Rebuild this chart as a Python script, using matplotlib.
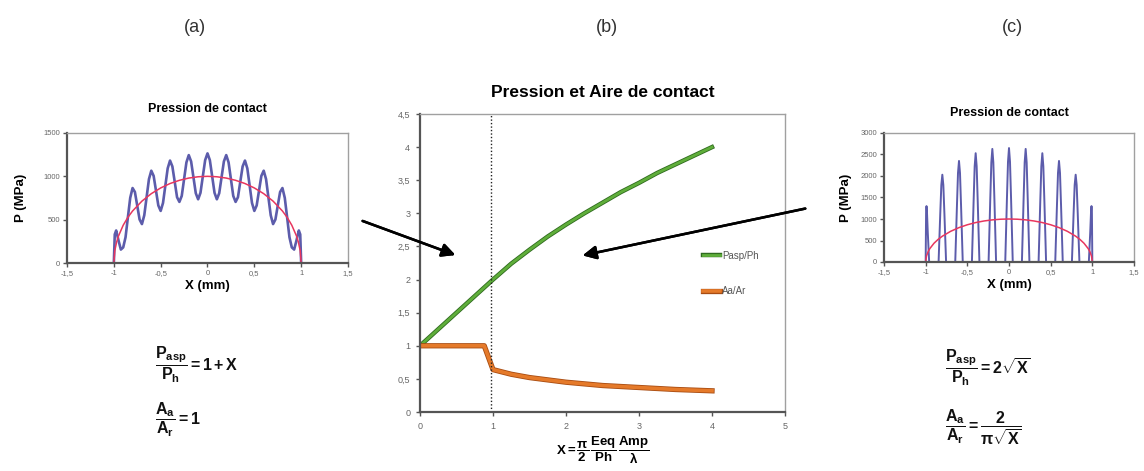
import matplotlib
matplotlib.use("Agg")
import matplotlib.pyplot as plt
import matplotlib.patheffects as pe

plt.rcParams['font.family'] = ['Liberation Sans', 'DejaVu Sans']
plt.rcParams['mathtext.fontset'] = 'custom'
plt.rcParams['mathtext.rm'] = 'Liberation Sans'
plt.rcParams['mathtext.bf'] = 'Liberation Sans:bold'
plt.rcParams['mathtext.it'] = 'Liberation Sans:italic'

# --- (a) sinusoidal roughness, pressure in MPa ---
a_x = [-1.0, -0.99, -0.975, -0.95, -0.925, -0.9, -0.875, -0.85, -0.825, -0.8,
       -0.775, -0.75, -0.725, -0.7, -0.675, -0.65, -0.625, -0.6, -0.575, -0.55,
       -0.525, -0.5, -0.475, -0.45, -0.425, -0.4, -0.375, -0.35, -0.325, -0.3,
       -0.275, -0.25, -0.225, -0.2, -0.175, -0.15, -0.125, -0.1, -0.075, -0.05,
       -0.025, 0.0, 0.025, 0.05, 0.075, 0.1, 0.125, 0.15, 0.175, 0.2,
       0.225, 0.25, 0.275, 0.3, 0.325, 0.35, 0.375, 0.4, 0.425, 0.45,
       0.475, 0.5, 0.525, 0.55, 0.575, 0.6, 0.625, 0.65, 0.675, 0.7,
       0.725, 0.75, 0.775, 0.8, 0.825, 0.85, 0.875, 0.9, 0.925, 0.95,
       0.975, 0.99, 1.0]
a_p = [0, 330, 375, 260, 155, 180, 297, 527, 752, 865,
       819, 661, 502, 449, 551, 760, 968, 1065, 1005, 835,
       664, 601, 693, 893, 1092, 1182, 1114, 937, 759, 705,
       774, 968, 1161, 1245, 1172, 989, 805, 735, 810, 999,
       1187, 1265, 1187, 999, 810, 735, 805, 989, 1172, 1245,
       1161, 968, 774, 705, 759, 937, 1114, 1182, 1092, 893,
       693, 601, 664, 835, 1005, 1065, 968, 760, 551, 449,
       502, 661, 819, 865, 752, 527, 297, 180, 155, 260,
       375, 330, 0]

# Hertz pressure (smooth contact), shared by (a) and (c)
hertz_x = [-1.0, -0.99, -0.97, -0.95, -0.9, -0.85, -0.8, -0.7, -0.6, -0.5, -0.4,
           -0.3, -0.2, -0.1, 0.0, 0.1, 0.2, 0.3, 0.4, 0.5, 0.6, 0.7, 0.8,
           0.85, 0.9, 0.95, 0.97, 0.99, 1.0]
hertz_p = [0, 141, 243, 312, 436, 527, 600, 714, 800, 866, 917,
           954, 980, 995, 1000, 995, 980, 954, 917, 866, 800, 714, 600,
           527, 436, 312, 243, 141, 0]

# --- (c) separated asperity contacts ---
c_x = [-1.5, -1.0, -0.995, -0.99, -0.984, -0.975, -0.958,
       -0.845, -0.825, -0.812, -0.8, -0.788, -0.775, -0.755,
       -0.645, -0.625, -0.612, -0.6, -0.588, -0.575, -0.555,
       -0.445, -0.425, -0.412, -0.4, -0.388, -0.375, -0.355,
       -0.245, -0.225, -0.212, -0.2, -0.188, -0.175, -0.155,
       -0.045, -0.025, -0.012, 0.0, 0.012, 0.025, 0.045,
       0.155, 0.175, 0.188, 0.2, 0.212, 0.225, 0.245,
       0.355, 0.375, 0.388, 0.4, 0.412, 0.425, 0.445,
       0.555, 0.575, 0.588, 0.6, 0.612, 0.625, 0.645,
       0.755, 0.775, 0.788, 0.8, 0.812, 0.825, 0.845,
       0.958, 0.975, 0.984, 0.99, 0.995, 1.0, 1.5]
c_p = [0, 0, 1150, 1300, 1150, 700, 0,
       0, 1120, 1790, 2030, 1790, 1120, 0,
       0, 1290, 2070, 2350, 2070, 1290, 0,
       0, 1390, 2225, 2530, 2225, 1390, 0,
       0, 1450, 2315, 2630, 2315, 1450, 0,
       0, 1460, 2330, 2650, 2330, 1460, 0,
       0, 1450, 2315, 2630, 2315, 1450, 0,
       0, 1390, 2225, 2530, 2225, 1390, 0,
       0, 1290, 2070, 2350, 2070, 1290, 0,
       0, 1120, 1790, 2030, 1790, 1120, 0,
       0, 700, 1150, 1300, 1150, 0, 0]

# --- (b) dimensionless pressure and contact area vs X ---
b_x_pasp = [0, 1.0, 1.25, 1.5, 1.75, 2.0, 2.25, 2.5, 2.75, 3.0, 3.25, 3.5, 3.75, 4.0]
b_pasp = [1.0, 2.0, 2.24, 2.45, 2.65, 2.83, 3.0, 3.16, 3.32, 3.46, 3.61, 3.74, 3.87, 4.0]
b_x_area = [0, 0.88, 1.0, 1.25, 1.5, 2.0, 2.5, 3.0, 3.5, 4.0]
b_area = [1.0, 1.0, 0.64, 0.57, 0.52, 0.45, 0.40, 0.37, 0.34, 0.32]
x_limit = 0.97

side_xticks = [-1.5, -1, -0.5, 0, 0.5, 1, 1.5]
side_xlabels = ['-1,5', '-1', '-0,5', '0', '0,5', '1', '1,5']
a_yticks = [0, 500, 1000, 1500]
c_yticks = [0, 500, 1000, 1500, 2000, 2500, 3000]
b_xticks = [0, 1, 2, 3, 4, 5]
b_yticks = [0, 0.5, 1, 1.5, 2, 2.5, 3, 3.5, 4, 4.5]
b_ylabels = ['0', '0,5', '1', '1,5', '2', '2,5', '3', '3,5', '4', '4,5']

W, H = 1144, 471
fig = plt.figure(figsize=(W / 100, H / 100), dpi=100)


def px_axes(left, top, right, bottom):
    return fig.add_axes([left / W, 1 - bottom / H, (right - left) / W, (bottom - top) / H])


def excel_frame(ax, size):
    for s in ['top', 'right']:
        ax.spines[s].set_color('#a0a0a0')
        ax.spines[s].set_linewidth(1.0)
    for s in ['left', 'bottom']:
        ax.spines[s].set_color('#555555')
        ax.spines[s].set_linewidth(1.6)
    ax.tick_params(direction='out', length=3, width=1, color='#555555',
                   labelsize=size, labelcolor='#666666', pad=2)


# (a)
ax1 = px_axes(67, 133, 348, 263)
ax1.plot(a_x, a_p, color='#5c5cab', lw=1.9)
ax1.plot(hertz_x, hertz_p, color='#e8365e', lw=1.1)
ax1.set_xlim(-1.5, 1.5)
ax1.set_ylim(0, 1500)
ax1.set_xticks(side_xticks, side_xlabels)
ax1.set_yticks(a_yticks)
excel_frame(ax1, 5.5)
ax1.set_title('Pression de contact', fontsize=9, fontweight='bold', pad=15)
ax1.set_xlabel('X (mm)', fontsize=9.5, fontweight='bold', labelpad=2)
ax1.set_ylabel('P (MPa)', fontsize=9.5, fontweight='bold', labelpad=12)

# (c)
ax3 = px_axes(884, 133, 1134, 262)
ax3.plot(c_x, c_p, color='#5c5cab', lw=1.4)
ax3.plot(hertz_x, hertz_p, color='#e8365e', lw=1.1)
ax3.set_xlim(-1.5, 1.5)
ax3.set_ylim(0, 3000)
ax3.set_xticks(side_xticks, side_xlabels)
ax3.set_yticks(c_yticks)
excel_frame(ax3, 5.5)
ax3.set_title('Pression de contact', fontsize=9, fontweight='bold', pad=12)
ax3.set_xlabel('X (mm)', fontsize=9.5, fontweight='bold', labelpad=2)
ax3.set_ylabel('P (MPa)', fontsize=9.5, fontweight='bold', labelpad=6)

# (b)
ax2 = px_axes(420, 114, 785, 412)
ax2.plot(b_x_pasp, b_pasp, color='#5fae3a', lw=2.0, label='Pasp/Ph',
         path_effects=[pe.Stroke(linewidth=3.2, foreground='#2f6a1f'), pe.Normal()])
ax2.plot(b_x_area, b_area, color='#e57a2a', lw=2.6, label='Aa/Ar',
         path_effects=[pe.Stroke(linewidth=3.8, foreground='#a84c12'), pe.Normal()])
ax2.axvline(x_limit, color='#222222', lw=1.0, ls=(0, (1, 1.5)))
ax2.set_xlim(0, 5)
ax2.set_ylim(0, 4.5)
ax2.set_xticks(b_xticks)
ax2.set_yticks(b_yticks, b_ylabels)
excel_frame(ax2, 6.5)
ax2.tick_params(pad=4)
ax2.set_title('Pression et Aire de contact', fontsize=12.5, fontweight='bold', pad=12)
ax2.set_xlabel(r'$\mathbf{X = \dfrac{\pi}{2}\,\dfrac{Eeq}{Ph}\,\dfrac{Amp}{\lambda}}$',
               fontsize=9.5, labelpad=3)
leg = ax2.legend(loc='upper left', bbox_to_anchor=(0.75, 0.57), frameon=False,
                 fontsize=7, handlelength=1.8, handletextpad=0.2, labelspacing=2.6)
for t in leg.get_texts():
    t.set_color('#555555')

# panel letters
for x, lab in [(195, '(a)'), (607, '(b)'), (1012, '(c)')]:
    fig.text(x / W, 1 - 28 / H, lab, fontsize=13, color='#333333', ha='center', va='center')

# arrows pointing into the central chart
fig.add_artist(plt.annotate('', xy=(458, H - 256), xytext=(360, H - 220),
                            xycoords='figure pixels', textcoords='figure pixels',
                            arrowprops=dict(arrowstyle='-|>', lw=1.8, color='black',
                                            mutation_scale=20)))
fig.add_artist(plt.annotate('', xy=(580, H - 256), xytext=(808, H - 208),
                            xycoords='figure pixels', textcoords='figure pixels',
                            arrowprops=dict(arrowstyle='-|>', lw=1.8, color='black',
                                            mutation_scale=20)))

# closed-form laws under the side panels
fig.text(155 / W, 1 - 365 / H, r'$\mathbf{\dfrac{P_{asp}}{P_h}=1+X}$', fontsize=11.5,
         ha='left', va='center', color='#111111')
fig.text(155 / W, 1 - 420 / H, r'$\mathbf{\dfrac{A_a}{A_r}=1}$', fontsize=11.5,
         ha='left', va='center', color='#111111')
fig.text(945 / W, 1 - 368 / H, r'$\mathbf{\dfrac{P_{asp}}{P_h}=2\sqrt{X}}$', fontsize=11.5,
         ha='left', va='center', color='#111111')
fig.text(945 / W, 1 - 427 / H, r'$\mathbf{\dfrac{A_a}{A_r}=\dfrac{2}{\pi\sqrt{X}}}$', fontsize=11.5,
         ha='left', va='center', color='#111111')

fig.savefig('out.png', dpi=100)
